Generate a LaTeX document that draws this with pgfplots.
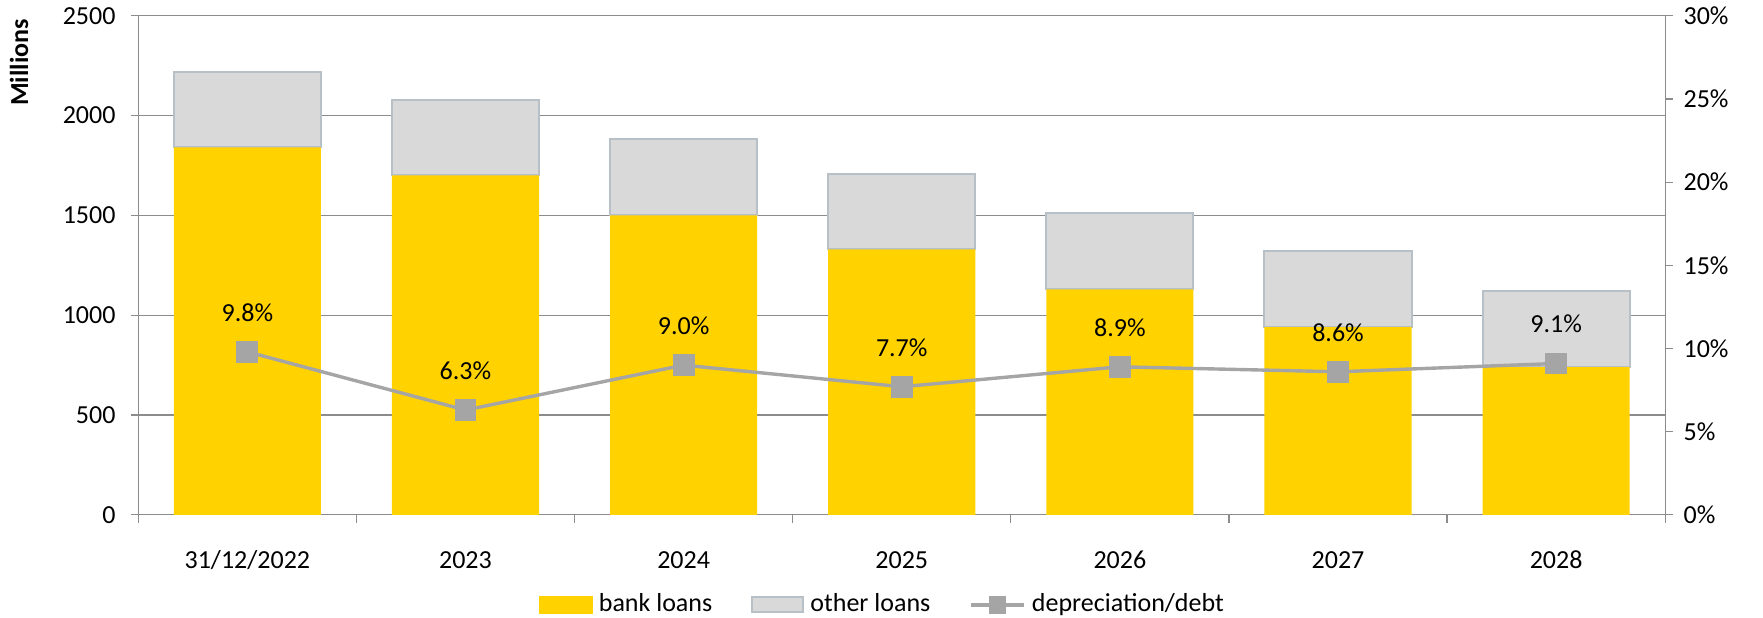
\documentclass[border=0pt]{standalone}
\usepackage{fontspec}
\setmainfont{Carlito}
\usepackage{pgfplots}
\pgfplotsset{compat=1.18}
\definecolor{ylw}{HTML}{FFD200}
\definecolor{oth}{HTML}{D9D9D9}
\definecolor{othb}{HTML}{B6C0C6}
\definecolor{ln}{HTML}{A5A5A5}
\definecolor{grd}{HTML}{8C8C8C}
\pgfkeys{/pgf/number format/assume math mode=true, /pgf/number format/1000 sep={}}
\begin{document}
\fontsize{13}{15.6}\selectfont
\begin{tikzpicture}
\path[use as bounding box] (-69.15pt,-51.5pt) rectangle (812.4pt,257.45pt);
\begin{axis}[
  name=main,
  scale only axis,
  width=763.5pt, height=249.6pt,
  at={(0pt,0pt)}, anchor=south west,
  xmin=-0.5, xmax=6.5,
  ymin=0, ymax=2500,
  ybar stacked,
  bar width=73.6pt,
  xtick={0,...,6},
  xticklabels={31/12/2022,2023,2024,2025,2026,2027,2028},
  minor xtick={-0.5,0.5,...,6.5},
  ytick={0,500,...,2500},
  scaled y ticks=false,
  xtick pos=left, ytick pos=left,
  tick align=outside,
  major x tick style={draw=none},
  minor x tick style={grd, line width=0.6pt},
  minor tick length=4pt,
  major tick length=3.4pt,
  y tick style={grd, line width=0.6pt},
  axis line style={grd, line width=0.6pt},
  ymajorgrids,
  major grid style={grd, line width=0.6pt},
  xticklabel style={anchor=center, inner sep=0pt, yshift=-19pt},
  yticklabel style={anchor=east, inner sep=0pt, xshift=-7.8pt},
  ylabel={},
]
\addplot[fill=ylw, draw=none] coordinates {(0,1840) (1,1700) (2,1500) (3,1330) (4,1130) (5,940) (6,740)};
\addplot[fill=oth, draw=othb, line width=1pt] coordinates {(0,380) (1,380) (2,380) (3,377) (4,380) (5,380) (6,380)};
\end{axis}
\node[rotate=90, anchor=north east, inner sep=0pt, font=\bfseries] at (-64.4pt,248pt) {Millions};
\begin{axis}[
  scale only axis,
  width=763.5pt, height=249.6pt,
  at={(0pt,0pt)}, anchor=south west,
  xmin=-0.5, xmax=6.5,
  ymin=0, ymax=30,
  axis x line=none,
  axis y line*=right,
  axis line style={grd, line width=0.6pt, -},
  ytick={0,5,...,30},
  yticklabel={\pgfmathprintnumber{\tick}\%},
  tick align=outside,
  major tick length=4pt,
  y tick style={grd, line width=0.6pt},
  yticklabel style={anchor=west, inner sep=0pt, xshift=5pt},
  legend style={at={(0.4867,-0.1803)}, anchor=center, draw=none, fill=none,
    legend columns=3,
    nodes={inner sep=0pt, anchor=west},
    /tikz/every odd column/.append style={column sep=3pt},
    /tikz/every even column/.append style={column sep=19.6pt}},
]
\addlegendimage{legend image code/.code={\fill[ylw] (0pt,-4.2pt) rectangle (26.5pt,4.2pt);}}
\addlegendentry{bank loans}
\addlegendimage{legend image code/.code={\filldraw[fill=oth, draw=othb, line width=1pt] (0.5pt,-3.7pt) rectangle (26pt,3.7pt);}}
\addlegendentry{other loans}
\addlegendimage{legend image code/.code={\draw[ln, line width=1.7pt] (0pt,0pt) -- (26.5pt,0pt); \fill[ln] (9.25pt,-4.2pt) rectangle (17.25pt,4.2pt);}}
\addlegendentry{depreciation/debt}
\addplot[ln, line width=1.7pt, mark=square*, mark size=4.6pt, mark options={fill=ln, draw=ln},
  nodes near coords={\pgfmathprintnumber[fixed,fixed zerofill,precision=1]{\pgfplotspointmeta}\%},
  every node near coord/.style={anchor=center, inner sep=0pt, yshift=19.7pt, text=black}]
  coordinates {(0,9.8) (1,6.3) (2,9.0) (3,7.7) (4,8.9) (5,8.6) (6,9.1)};
\end{axis}
\end{tikzpicture}
\end{document}
